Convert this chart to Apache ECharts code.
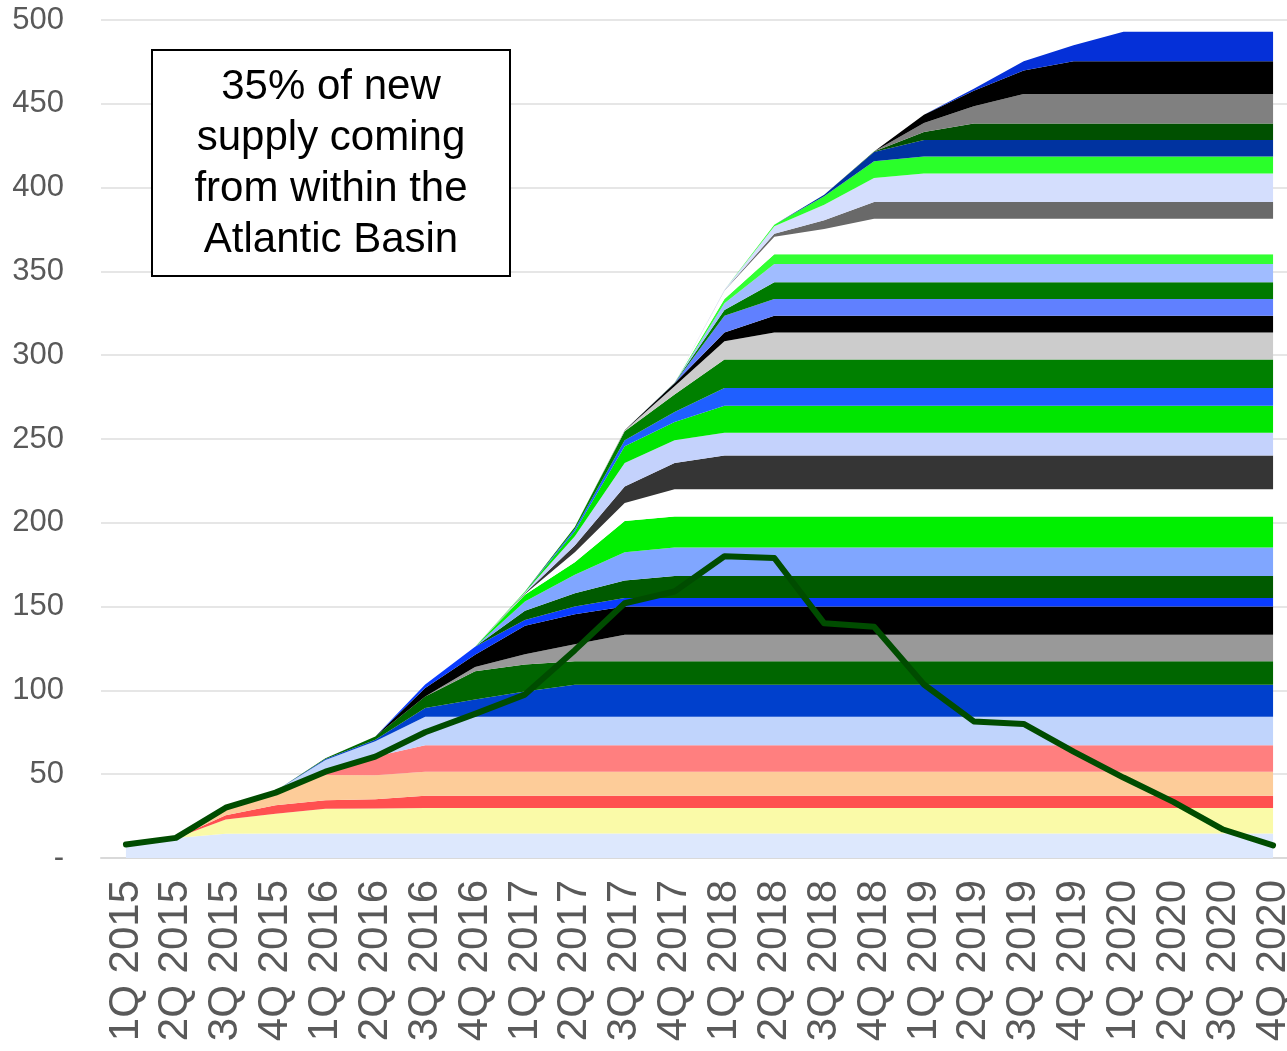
<!DOCTYPE html>
<html>
<head>
<meta charset="utf-8">
<script src="https://cdn.jsdelivr.net/npm/echarts@6/dist/echarts.min.js"></script>
<style>
  html, body { margin: 0; padding: 0; background: #ffffff; overflow: hidden; }
  /* plot area runs slightly past the right edge of the window */
  #chart { width: 1300px; height: 1051px; }
</style>
</head>
<body>
<div id="chart"></div>
<script>
// Quarterly categories
const quarters = [
  '1Q 2015','2Q 2015','3Q 2015','4Q 2015',
  '1Q 2016','2Q 2016','3Q 2016','4Q 2016',
  '1Q 2017','2Q 2017','3Q 2017','4Q 2017',
  '1Q 2018','2Q 2018','3Q 2018','4Q 2018',
  '1Q 2019','2Q 2019','3Q 2019','4Q 2019',
  '1Q 2020','2Q 2020','3Q 2020','4Q 2020'
];

// Y axis ticks
const yTicks = { min: 0, max: 500, step: 50 };

// Capacity added by each project, stacked bottom to top (one value per quarter)
const layer01 = [8,12,14.5,14.6,14.6,14.6,14.6,14.6,14.6,14.6,14.6,14.6,14.6,14.6,14.6,14.6,14.6,14.6,14.6,14.6,14.6,14.6,14.6,14.6];
const layer02 = [0,0,8.5,11.8,14.8,15.0,15.3,15.3,15.3,15.3,15.3,15.3,15.3,15.3,15.3,15.3,15.3,15.3,15.3,15.3,15.3,15.3,15.3,15.3];
const layer03 = [0,0,2.5,5.0,5.0,5.4,7.3,7.3,7.3,7.3,7.3,7.3,7.3,7.3,7.3,7.3,7.3,7.3,7.3,7.3,7.3,7.3,7.3,7.3];
const layer04 = [0,0,3.5,8.6,15.1,14.3,14.3,14.3,14.3,14.3,14.3,14.3,14.3,14.3,14.3,14.3,14.3,14.3,14.3,14.3,14.3,14.3,14.3,14.3];
const layer05 = [0,0,0,0,2.5,11.3,15.8,15.8,15.8,15.8,15.8,15.8,15.8,15.8,15.8,15.8,15.8,15.8,15.8,15.8,15.8,15.8,15.8,15.8];
const layer06 = [0,0,0,0,6.5,9.0,17.0,17.0,17.0,17.0,17.0,17.0,17.0,17.0,17.0,17.0,17.0,17.0,17.0,17.0,17.0,17.0,17.0,17.0];
const layer07 = [0,0,0,0,0.5,0.9,5.2,10.2,15.1,19.0,19.0,19.0,19.0,19.0,19.0,19.0,19.0,19.0,19.0,19.0,19.0,19.0,19.0,19.0];
const layer08 = [0,0,0,0,0.5,2.0,6.9,16.9,16.1,14.1,14.1,14.1,14.1,14.1,14.1,14.1,14.1,14.1,14.1,14.1,14.1,14.1,14.1,14.1];
const layer09 = [0,0,0,0,0,0,0,2.6,6.0,10.1,15.8,15.8,15.8,15.8,15.8,15.8,15.8,15.8,15.8,15.8,15.8,15.8,15.8,15.8];
const layer10 = [0,0,0,0,0,0,5.0,7.3,17.0,18.0,16.8,16.8,16.8,16.8,16.8,16.8,16.8,16.8,16.8,16.8,16.8,16.8,16.8,16.8];
const layer11 = [0,0,0,0,0,0,2.1,4.7,3.5,4.5,5.1,5.1,5.1,5.1,5.1,5.1,5.1,5.1,5.1,5.1,5.1,5.1,5.1,5.1];
const layer12 = [0,0,0,0,0,0,0,0,5.5,8.0,10.4,13.1,13.1,13.1,13.1,13.1,13.1,13.1,13.1,13.1,13.1,13.1,13.1,13.1];
const layer13 = [0,0,0,0,0,0,0,0,5.5,11.0,16.9,17.0,17.0,17.0,17.0,17.0,17.0,17.0,17.0,17.0,17.0,17.0,17.0,17.0];
const layer14 = [0,0,0,0,0,0,0,0,4.0,7.5,18.6,18.5,18.5,18.5,18.5,18.5,18.5,18.5,18.5,18.5,18.5,18.5,18.5,18.5];
const layer15 = [0,0,0,0,0,0,0,0,0.5,6.0,10.8,16.3,16.3,16.3,16.3,16.3,16.3,16.3,16.3,16.3,16.3,16.3,16.3,16.3];
const layer16 = [0,0,0,0,0,0,0,0,0.5,4.0,9.9,15.7,20.2,20.2,20.2,20.2,20.2,20.2,20.2,20.2,20.2,20.2,20.2,20.2];
const layer17 = [0,0,0,0,0,0,0,0,0.5,5.5,14.0,13.6,13.6,13.6,13.6,13.6,13.6,13.6,13.6,13.6,13.6,13.6,13.6,13.6];
const layer18 = [0,0,0,0,0,0,0,0,0.5,3.0,9.9,10.9,16.0,16.0,16.0,16.0,16.0,16.0,16.0,16.0,16.0,16.0,16.0,16.0];
const layer19 = [0,0,0,0,0,0,0,0,0,1.3,3.7,5.9,10.7,10.7,10.7,10.7,10.7,10.7,10.7,10.7,10.7,10.7,10.7,10.7];
const layer20 = [0,0,0,0,0,0,0,0,0,1.2,5.3,10.4,17.0,17.0,17.0,17.0,17.0,17.0,17.0,17.0,17.0,17.0,17.0,17.0];
const layer21 = [0,0,0,0,0,0,0,0,0,0,0.4,4.9,10.8,16.1,16.1,16.1,16.1,16.1,16.1,16.1,16.1,16.1,16.1,16.1];
const layer22 = [0,0,0,0,0,0,0,0,0,0,0.2,1.8,5.3,9.9,9.9,9.9,9.9,9.9,9.9,9.9,9.9,9.9,9.9,9.9];
const layer23 = [0,0,0,0,0,0,0,0,0,0,0,0.2,9.9,10.0,10.0,10.0,10.0,10.0,10.0,10.0,10.0,10.0,10.0,10.0];
const layer24 = [0,0,0,0,0,0,0,0,0,0,0,0.1,3.5,10.0,10.0,10.0,10.0,10.0,10.0,10.0,10.0,10.0,10.0,10.0];
const layer25 = [0,0,0,0,0,0,0,0,0,0,0,0.1,4.0,10.9,10.9,10.9,10.9,10.9,10.9,10.9,10.9,10.9,10.9,10.9];
const layer26 = [0,0,0,0,0,0,0,0,0,0,0,0,2.5,5.8,5.8,5.8,5.8,5.8,5.8,5.8,5.8,5.8,5.8,5.8];
const layer27 = [0,0,0,0,0,0,0,0,0,0,0,0,5.0,10.4,15.1,21.2,21.2,21.2,21.2,21.2,21.2,21.2,21.2,21.2];
const layer28 = [0,0,0,0,0,0,0,0,0,0,0,0,0.1,1.9,5.2,10.0,10.0,10.0,10.0,10.0,10.0,10.0,10.0,10.0];
const layer29 = [0,0,0,0,0,0,0,0,0,0,0,0,0.4,4.4,9.3,14.3,17.0,17.0,17.0,17.0,17.0,17.0,17.0,17.0];
const layer30 = [0,0,0,0,0,0,0,0,0,0,0,0,0,1.0,5.0,10.0,10.2,10.2,10.2,10.2,10.2,10.2,10.2,10.2];
const layer31 = [0,0,0,0,0,0,0,0,0,0,0,0,0,0,1.0,5.6,9.8,9.8,9.8,9.8,9.8,9.8,9.8,9.8];
const layer32 = [0,0,0,0,0,0,0,0,0,0,0,0,0,0,0,0.2,4.8,9.8,9.8,9.8,9.8,9.8,9.8,9.8];
const layer33 = [0,0,0,0,0,0,0,0,0,0,0,0,0,0,0,0.1,5.4,10.3,17.6,17.6,17.6,17.6,17.6,17.6];
const layer34 = [0,0,0,0,0,0,0,0,0,0,0,0,0,0,0,0,4.9,9.3,14.0,19.6,19.6,19.6,19.6,19.6];
const layer35 = [0,0,0,0,0,0,0,0,0,0,0,0,0,0,0,0,0,1.2,5.6,9.5,17.6,17.6,17.6,17.6];

// New supply per quarter (line)
const quarterlySupply = [8,12,30,39,51.5,60.5,75,86,97.5,124,152,159,180,179,140,138,103.5,81.5,80,63.5,48,33.5,17,7.5];

const boxLines = ['35% of new', 'supply coming', 'from within the', 'Atlantic Basin'];

// Fill colours, bottom to top
const layerColors = [
  '#dde8fd','#fafaa8','#ff5050','#fdcc99','#ff7f7f','#c0d4fc','#0040cc','#006600',
  '#999999','#000000','#0a3cff','#005a00','#80a6ff','#00f000','#ffffff','#353535',
  '#c4d2fc','#00e600','#1f5fff','#008000','#cccccc','#000000','#6080ff','#007a00',
  '#a0bcff','#33ff33','#ffffff','#696969','#d4defd','#2aff2a','#0033a0','#005000',
  '#808080','#000000','#0530d8'
];

const layers = [
  layer01,layer02,layer03,layer04,layer05,layer06,layer07,layer08,layer09,layer10,
  layer11,layer12,layer13,layer14,layer15,layer16,layer17,layer18,layer19,layer20,
  layer21,layer22,layer23,layer24,layer25,layer26,layer27,layer28,layer29,layer30,
  layer31,layer32,layer33,layer34,layer35
];

const FONT = '"Liberation Sans", Arial, sans-serif';

const series = layers.map((data, i) => ({
  name: 'P' + (i + 1),
  type: 'line',
  stack: 'supply',
  data: data,
  symbol: 'none',
  silent: true,
  lineStyle: { width: 0 },
  itemStyle: { color: layerColors[i] },
  areaStyle: { color: layerColors[i], opacity: 1 },
  z: 2
}));

series.push({
  name: 'Quarterly',
  type: 'line',
  data: quarterlySupply,
  symbol: 'none',
  silent: true,
  lineStyle: { color: '#004c00', width: 6, join: 'round', cap: 'round' },
  itemStyle: { color: '#004c00' },
  z: 5
});

const chart = echarts.init(document.getElementById('chart'));
chart.setOption({
  animation: false,
  backgroundColor: '#ffffff',
  grid: { left: 101, top: 20, width: 1197, height: 838, containLabel: false },
  xAxis: {
    type: 'category',
    data: quarters,
    boundaryGap: true,
    axisLine: { show: true, lineStyle: { color: '#d9d9d9', width: 2 } },
    axisTick: { show: false },
    axisLabel: {
      rotate: 90,
      interval: 0,
      fontSize: 42,
      fontFamily: FONT,
      color: '#595959',
      margin: 22
    },
    splitLine: { show: false }
  },
  yAxis: {
    type: 'value',
    min: yTicks.min,
    max: yTicks.max,
    interval: yTicks.step,
    axisLine: { show: false },
    axisTick: { show: false },
    axisLabel: {
      fontSize: 31,
      fontFamily: FONT,
      color: '#595959',
      margin: 37,
      formatter: v => (v === 0 ? '-' : String(v))
    },
    splitLine: { lineStyle: { color: '#e6e6e6', width: 2 } }
  },
  series: series,
  graphic: [
    {
      type: 'rect',
      z: 100,
      shape: { x: 152, y: 50, width: 358, height: 226 },
      style: { fill: '#ffffff', stroke: '#000000', lineWidth: 2 }
    },
    {
      type: 'text',
      z: 101,
      x: 331,
      y: 164,
      style: {
        text: boxLines.join('\n'),
        align: 'center',
        verticalAlign: 'middle',
        fontSize: 42,
        fontFamily: FONT,
        lineHeight: 51,
        fill: '#000000'
      }
    }
  ]
});
</script>
</body>
</html>
